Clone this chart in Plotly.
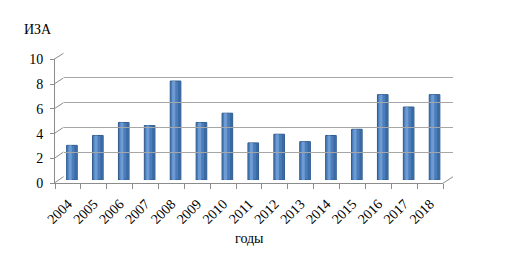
import plotly.graph_objects as go

years = ["2004", "2005", "2006", "2007", "2008", "2009", "2010", "2011",
         "2012", "2013", "2014", "2015", "2016", "2017", "2018"]
iza = [2.8, 3.6, 4.65, 4.4, 8.0, 4.65, 5.4, 3.0, 3.7, 3.1, 3.6, 4.1, 6.9, 5.9, 6.9]
y_ticks = [0, 2, 4, 6, 8, 10]
y_title = "ИЗА"
x_title = "годы"

W, H = 509, 260
OFF = 8  # page body margin offset
def px(x):
    return (x - OFF) / W
def py(y):
    return 1 - (y - OFF) / H

FONT = "Liberation Serif, Times New Roman, serif"
GRID = "#A6A6A6"
AX = "#8C8C8C"

# front plane (labels), middle plane (bars), back plane (grid)  -- target screen pixels
front_x = [55, 443]; front_y = [183.3, 59.3]
mid_x = [59, 447.5];  mid_y = [180, 56.3]
back_x = [63.5, 453]; back_y = [176.7, 53.3]

fig = go.Figure()

# invisible traces to establish category axes on front and back planes
fig.add_trace(go.Scatter(x=years, y=iza, xaxis="x", yaxis="y", mode="markers",
                         marker=dict(opacity=0), hoverinfo="skip", showlegend=False))
fig.add_trace(go.Scatter(x=years, y=iza, xaxis="x3", yaxis="y3", mode="markers",
                         marker=dict(opacity=0), hoverinfo="skip", showlegend=False))

# bars (cylinder look: body + shading strips)
fig.add_trace(go.Bar(x=years, y=iza, xaxis="x2", yaxis="y2", width=0.41,
                     marker=dict(color="#4A7DBA", line=dict(color="#2F5A8C", width=1)),
                     showlegend=False, hoverinfo="skip"))
fig.add_trace(go.Bar(x=years, y=iza, xaxis="x2", yaxis="y2", width=0.12, offset=-0.13,
                     marker=dict(color="#6E9BD3", line=dict(width=0)),
                     showlegend=False, hoverinfo="skip"))
fig.add_trace(go.Bar(x=years, y=iza, xaxis="x2", yaxis="y2", width=0.08, offset=0.1,
                     marker=dict(color="#3A6AA3", line=dict(width=0)),
                     showlegend=False, hoverinfo="skip"))

common_x = dict(type="category", fixedrange=True, automargin=False)
fig.update_layout(
    template="none",
    width=W, height=H,
    margin=dict(l=0, r=0, t=0, b=0, pad=0, autoexpand=False),
    paper_bgcolor="white", plot_bgcolor="rgba(0,0,0,0)",
    barmode="overlay",
    font=dict(family=FONT, size=14, color="black"),
    xaxis=dict(**common_x, domain=[px(front_x[0]), px(front_x[1])], anchor="y",
               range=[-0.5, len(years) - 0.5],
               showline=True, linecolor=AX, linewidth=1,
               ticks="outside", ticklen=5, tickcolor=AX, tickson="boundaries",
               ticklabelstandoff=6,
               tickangle=-45, tickfont=dict(family=FONT, size=14, color="black"),
               showgrid=False, zeroline=False),
    yaxis=dict(domain=[py(front_y[0]), py(front_y[1])], anchor="x", range=[0, 10],
               tickvals=y_ticks, showline=True, linecolor=AX, linewidth=1,
               ticks="outside", ticklen=4, tickcolor=AX, ticklabelstandoff=4,
               tickfont=dict(family=FONT, size=14, color="black"), automargin=False,
               showgrid=False, zeroline=False, fixedrange=True),
    xaxis2=dict(**common_x, domain=[px(mid_x[0]), px(mid_x[1])], anchor="y2",
                range=[-0.5, len(years) - 0.5], visible=False),
    yaxis2=dict(domain=[py(mid_y[0]), py(mid_y[1])], anchor="x2", range=[0, 10],
                visible=False, fixedrange=True, automargin=False),
    xaxis3=dict(**common_x, domain=[px(back_x[0]), px(back_x[1])], anchor="y3",
                range=[-0.5, len(years) - 0.5], showticklabels=False,
                showgrid=False, zeroline=False, showline=False, ticks=""),
    yaxis3=dict(domain=[py(back_y[0]), py(back_y[1])], anchor="x3", range=[0, 10],
                tickvals=y_ticks, showticklabels=False, ticks="", automargin=False,
                showgrid=True, gridcolor=GRID, gridwidth=1.3,
                zeroline=False, showline=False, fixedrange=True),
)

# 3D connector lines between front axis and back wall
shapes = []
for i, v in enumerate(y_ticks):
    fy = front_y[0] + (front_y[1] - front_y[0]) * v / 10
    by = back_y[0] + (back_y[1] - back_y[0]) * v / 10
    shapes.append(dict(type="line", xref="paper", yref="paper",
                       x0=px(front_x[0] - 1), y0=py(fy), x1=px(back_x[0]), y1=py(by),
                       line=dict(color=AX, width=1)))
shapes.append(dict(type="line", xref="paper", yref="paper",
                   x0=px(front_x[1]), y0=py(front_y[0]), x1=px(back_x[1]), y1=py(back_y[0]),
                   line=dict(color=AX, width=1)))
fig.update_layout(shapes=shapes)

fig.add_annotation(text=y_title, xref="paper", yref="paper", x=px(22), y=py(29),
                   xanchor="left", yanchor="middle", showarrow=False,
                   font=dict(family=FONT, size=14, color="black"))
fig.add_annotation(text=x_title, xref="paper", yref="paper", x=px(249), y=py(238),
                   xanchor="center", yanchor="middle", showarrow=False,
                   font=dict(family=FONT, size=14, color="black"))

fig.write_html("out.html")
